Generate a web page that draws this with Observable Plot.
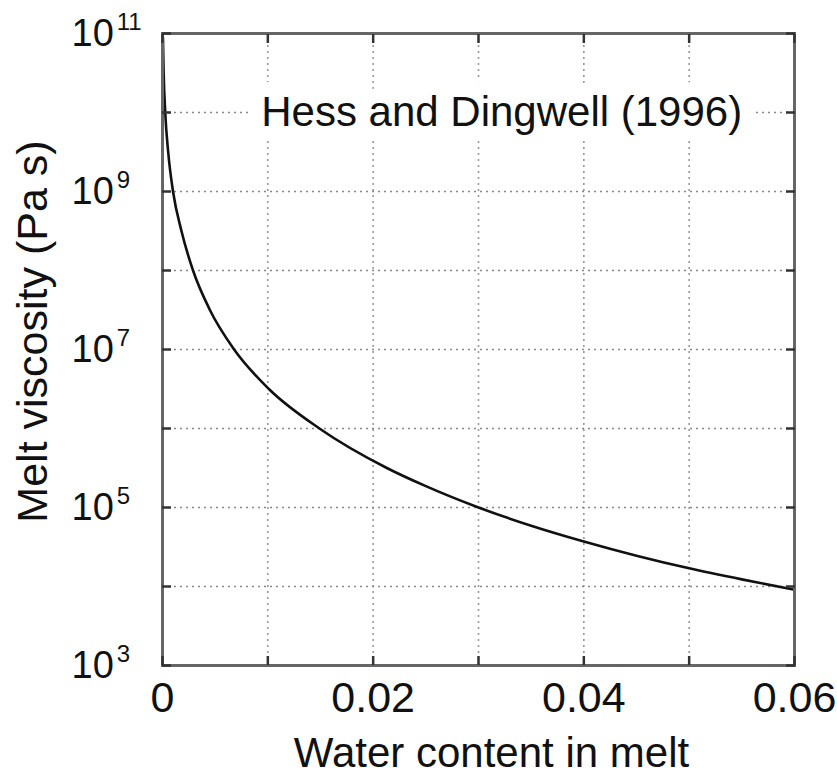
<!DOCTYPE html>
<html>
<head>
<meta charset="utf-8">
<script src="https://cdn.jsdelivr.net/npm/d3@7"></script>
<script src="https://cdn.jsdelivr.net/npm/@observablehq/plot@0.6"></script>
<style>
  html, body { margin: 0; padding: 0; background: #fff; }
  #chart { width: 837px; height: 778px; }
</style>
</head>
<body>
<div id="chart"></div>
<script>
// Water content (mass fraction) and log10 melt viscosity (Pa s)
const waterContent = [0.00004, 0.00011, 0.00026, 0.00054, 0.0010, 0.0018, 0.0029, 0.0045, 0.0068, 0.0101, 0.0149, 0.0213, 0.0250, 0.0300, 0.0350, 0.0400, 0.0450, 0.0500, 0.0550, 0.0600];
const logViscosity = [10.95, 10.5, 10.0, 9.5, 9.0, 8.5, 8.0, 7.5, 7.0, 6.5, 6.0, 5.5, 5.27, 5.0, 4.77, 4.57, 4.39, 4.23, 4.09, 3.96];

// Axes
const xTickValues = [0, 0.01, 0.02, 0.03, 0.04, 0.05, 0.06];
const xLabelValues = [0, 0.02, 0.04, 0.06];
const xGridValues = [0.01, 0.02, 0.03, 0.04, 0.05];
const yTickExponents = [3, 4, 5, 6, 7, 8, 9, 10, 11];
const yLabelExponents = [3, 5, 7, 9, 11];
const yGridExponents = [4, 5, 6, 7, 8, 9, 10];
const xTitle = ["Water content in melt"];
const yTitle = ["Melt viscosity (Pa s)"];

// Annotation
const annotationText = ["Hess and Dingwell (1996)"];
const annotationX = [0.0322];
const annotationY = [1e10];

const data = waterContent.map((w, i) => ({w, eta: Math.pow(10, logViscosity[i])}));
const pow10 = e => Math.pow(10, e);
const font = "'Liberation Sans', Arial, Helvetica, sans-serif";

const chart = Plot.plot({
  width: 837,
  height: 778,
  marginLeft: 162,
  marginRight: 43,
  marginTop: 33,
  marginBottom: 113,
  style: {fontFamily: font, fontSize: "40px", background: "white", color: "#111"},
  x: {domain: [0, 0.06], axis: null},
  y: {type: "log", domain: [1e3, 1e11], axis: null},
  marks: [
    Plot.gridX(xGridValues, {stroke: "#999", strokeOpacity: 1, strokeWidth: 1.6, strokeDasharray: "2,4"}),
    Plot.gridY(yGridExponents.map(pow10), {stroke: "#888", strokeOpacity: 1, strokeWidth: 1.6, strokeDasharray: "2,4"}),
    Plot.text(annotationText, {
      x: (d, i) => annotationX[i], y: (d, i) => annotationY[i], text: d => d,
      fontSize: 42, fill: "#111", stroke: "white", strokeWidth: 30, strokeLinejoin: "round",
      textAnchor: "middle", lineAnchor: "middle", fontFamily: font
    }),
    Plot.line(data, {x: "w", y: "eta", curve: "monotone-x", stroke: "#111", strokeWidth: 2.6}),
    Plot.frame({stroke: "#666", strokeWidth: 3}),
    Plot.axisX(xTickValues, {anchor: "bottom", tickSize: -9, tickFormat: () => "", stroke: "#333", strokeWidth: 2.5, label: null}),
    Plot.axisX(xTickValues, {anchor: "top", tickSize: -9, tickFormat: () => "", stroke: "#333", strokeWidth: 2.5, label: null}),
    Plot.axisY(yTickExponents.map(pow10), {anchor: "left", tickSize: -9, tickFormat: () => "", stroke: "#333", strokeWidth: 2.5, label: null}),
    Plot.axisY(yTickExponents.map(pow10), {anchor: "right", tickSize: -9, tickFormat: () => "", stroke: "#333", strokeWidth: 2.5, label: null}),
    Plot.axisX(xLabelValues, {
      anchor: "bottom", tickSize: 0, tickPadding: 16, fontSize: 43, fill: "#111",
      tickFormat: d => d === 0 ? "0" : d.toFixed(2), label: null
    }),
    Plot.axisY(yLabelExponents.map(pow10), {
      anchor: "left", tickSize: 0, tickPadding: 91, fontSize: 38, fill: "#111",
      tickFormat: d => "10^" + Math.round(Math.log10(d)), label: null
    }),
    Plot.text(xTitle, {frameAnchor: "bottom", text: d => d, dx: 13, dy: 88, fontSize: 42, fill: "#111", lineAnchor: "middle", textAnchor: "middle"}),
    Plot.text(yTitle, {frameAnchor: "left", text: d => d, rotate: -90, dx: -129, dy: -18, fontSize: 43, fill: "#111", lineAnchor: "middle", textAnchor: "middle"})
  ]
});

// Render exponents as superscripts, with the base "10" aligned on the left
chart.querySelectorAll('g[aria-label="y-axis tick label"] text').forEach(t => {
  const s = t.textContent;
  if (!s.includes("^")) return;
  const [base, exp] = s.split("^");
  t.textContent = "";
  t.setAttribute("text-anchor", "start");
  const ns = "http://www.w3.org/2000/svg";
  const b = document.createElementNS(ns, "tspan");
  b.textContent = base;
  const e = document.createElementNS(ns, "tspan");
  e.textContent = exp;
  e.setAttribute("font-size", "24");
  e.setAttribute("dx", "3");
  e.setAttribute("dy", "-16");
  t.appendChild(b);
  t.appendChild(e);
});

document.getElementById("chart").appendChild(chart);
</script>
</body>
</html>
